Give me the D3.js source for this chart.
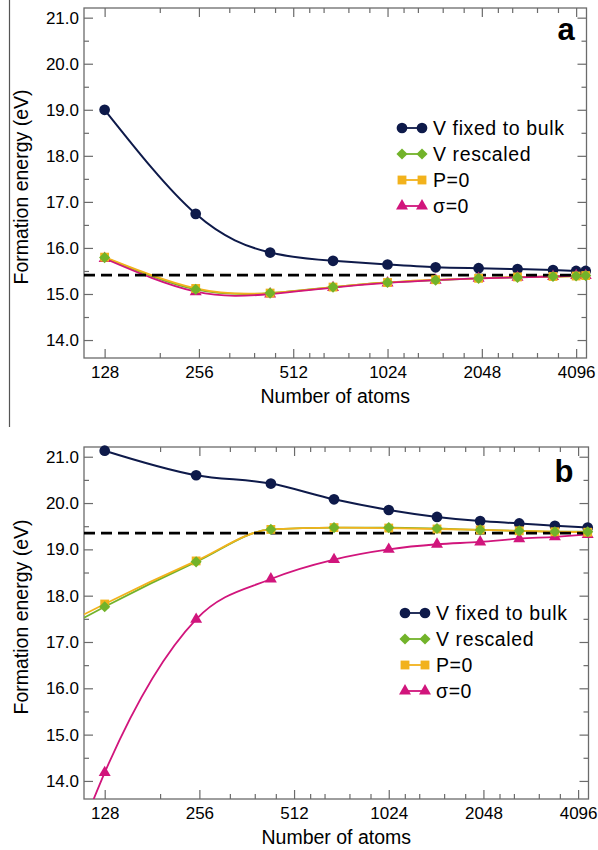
<!DOCTYPE html>
<html>
<head>
<meta charset="utf-8"/>
<script src="https://d3js.org/d3.v7.min.js"></script>
<style>
body { margin: 0; background: #fff; }
svg text { font-family: "Liberation Sans", Arial, Helvetica, sans-serif; fill: #000; }
.frame { fill: none; stroke: #6b6b6b; stroke-width: 1.3; }
.tick line { stroke: #6b6b6b; stroke-width: 1.2; }
</style>
</head>
<body>
<svg id="svg" width="598" height="850"></svg>
<script>
// number of atoms in the supercells
var atomsA = [128, 250, 432, 686, 1024, 1458, 2000, 2662, 3456, 4096, 4394];
var atomsB = [128, 250, 432, 686, 1024, 1458, 2000, 2662, 3456, 4394];

// panel a (eV)
var fixedA    = [19.0, 16.74, 15.9, 15.72, 15.64, 15.58, 15.56, 15.54, 15.52, 15.5, 15.5];
var rescaledA = [15.79, 15.1, 15.02, 15.15, 15.25, 15.3, 15.34, 15.36, 15.38, 15.39, 15.4];
var pzeroA    = [15.8, 15.12, 15.02, 15.15, 15.25, 15.31, 15.34, 15.37, 15.38, 15.39, 15.4];
var sigmaA    = [15.77, 15.05, 15.0, 15.14, 15.24, 15.3, 15.34, 15.36, 15.38, 15.4, 15.4];
var refA = 15.41;

// panel b (eV)
var fixedB    = [21.13, 20.6, 20.42, 20.08, 19.85, 19.7, 19.61, 19.56, 19.51, 19.47];
var rescaledB = [17.76, 18.73, 19.43, 19.47, 19.47, 19.45, 19.42, 19.4, 19.38, 19.38];
var pzeroB    = [17.82, 18.75, 19.43, 19.47, 19.46, 19.44, 19.42, 19.4, 19.38, 19.37];
var sigmaB    = [14.18, 17.49, 18.36, 18.78, 19.0, 19.11, 19.16, 19.23, 19.27, 19.32];
var refB = 19.35;

var seriesNames = ["V fixed to bulk", "V rescaled", "P=0", "\u03c3=0"];
var seriesColors = ["#0e1a4a", "#72b32a", "#f2b21c", "#d1157c"];
var seriesShapes = ["circle", "diamond", "square", "triangle"];

var xTicks = [128, 256, 512, 1024, 2048, 4096];
var xMinor = [192, 320, 384, 448, 576, 640, 768, 896, 1152, 1280, 1536, 1792, 2304, 2560, 3072, 3584];
var yTicks = [14, 15, 16, 17, 18, 19, 20, 21];
var yMinor = [14.5, 15.5, 16.5, 17.5, 18.5, 19.5, 20.5];

var panels = [
  { id: "a", left: 84, right: 586.5, top: 8, bottom: 358, atoms: atomsA,
    series: [fixedA, rescaledA, pzeroA, sigmaA], ref: refA, curve: d3.curveNatural,
    extend: [false, false, false, false], legendX: 402, legendY: 128,
    labelX: 566, labelY: 40, titleY: 187 },
  { id: "b", left: 84, right: 588.5, top: 447, bottom: 799, atoms: atomsB,
    series: [fixedB, rescaledB, pzeroB, sigmaB], ref: refB, curve: d3.curveMonotoneX,
    extend: [false, true, true, true], legendX: 405, legendY: 613,
    labelX: 564, labelY: 482, titleY: 617 }
];

var svg = d3.select("#svg");

// stray border line of the original figure
svg.append("line")
  .attr("x1", 9.5).attr("x2", 9.5).attr("y1", 0).attr("y2", 427)
  .attr("stroke", "#555").attr("stroke-width", 1.2);

function symbolPath(shape) {
  if (shape == "circle") return d3.symbol(d3.symbolCircle, 90)();
  if (shape == "diamond") return d3.symbol(d3.symbolSquare, 62)();
  if (shape == "square") return d3.symbol(d3.symbolSquare, 78)();
  return d3.symbol(d3.symbolTriangle, 62)();
}
function symbolRot(shape) { return shape == "diamond" ? " rotate(45)" : ""; }

// extend a fitted curve to the left edge (quadratic through the first three points, log2 x)
function leftPoint(xs, ys, xEdge) {
  var t = xs.slice(0, 3).map(Math.log2), v = ys.slice(0, 3);
  var s1 = (v[1] - v[0]) / (t[1] - t[0]);
  var s2 = (v[2] - v[1]) / (t[2] - t[1]);
  var f2 = (s2 - s1) / (t[2] - t[0]);
  var te = Math.log2(xEdge);
  return [xEdge, v[0] + s1 * (te - t[0]) + f2 * (te - t[0]) * (te - t[1])];
}

panels.forEach(function(p) {
  var x = d3.scaleLog().base(2).domain([110, 4420]).range([p.left, p.right]);
  var y = d3.scaleLinear().domain([13.61, 21.21]).range([p.bottom, p.top]);
  var g = svg.append("g");

  g.append("clipPath").attr("id", "clip-" + p.id)
    .append("rect")
    .attr("x", p.left).attr("y", p.top)
    .attr("width", p.right - p.left).attr("height", p.bottom - p.top);

  function addAxis(axis, tx, ty) {
    var a = g.append("g")
      .attr("transform", "translate(" + tx + "," + ty + ")")
      .call(axis);
    a.select(".domain").remove();
    a.selectAll("text")
      .style("font-family", "'Liberation Sans', Arial, sans-serif")
      .style("font-size", "17px")
      .style("fill", "#000");
    a.selectAll("line").attr("stroke", "#6b6b6b");
    return a;
  }

  addAxis(d3.axisBottom(x).tickValues(xTicks).tickSize(-9).tickPadding(8).tickFormat(d3.format("d")), 0, p.bottom);
  addAxis(d3.axisBottom(x).tickValues(xMinor).tickSize(-5).tickFormat(""), 0, p.bottom);
  addAxis(d3.axisTop(x).tickValues(xTicks).tickSize(-9).tickFormat(""), 0, p.top);
  addAxis(d3.axisTop(x).tickValues(xMinor).tickSize(-5).tickFormat(""), 0, p.top);
  addAxis(d3.axisLeft(y).tickValues(yTicks).tickSize(-9).tickPadding(5).tickFormat(d3.format(".1f")), p.left, 0);
  addAxis(d3.axisLeft(y).tickValues(yMinor).tickSize(-5).tickFormat(""), p.left, 0);
  addAxis(d3.axisRight(y).tickValues(yTicks).tickSize(-9).tickFormat(""), p.right, 0);
  addAxis(d3.axisRight(y).tickValues(yMinor).tickSize(-5).tickFormat(""), p.right, 0);

  g.append("rect").attr("class", "frame")
    .attr("x", p.left).attr("y", p.top)
    .attr("width", p.right - p.left).attr("height", p.bottom - p.top);

  var line = d3.line()
    .x(function(d) { return x(d[0]); })
    .y(function(d) { return y(d[1]); })
    .curve(p.curve);

  var lineOrder = [0, 1, 2, 3];
  var plot = g.append("g").attr("clip-path", "url(#clip-" + p.id + ")");
  lineOrder.forEach(function(i) {
    var pts = p.atoms.map(function(n, k) { return [n, p.series[i][k]]; });
    if (p.extend[i]) pts.unshift(leftPoint(p.atoms, p.series[i], x.domain()[0]));
    plot.append("path")
      .attr("d", line(pts))
      .attr("fill", "none")
      .attr("stroke", seriesColors[i])
      .attr("stroke-width", i == 0 ? 2 : 1.8);
  });

  // bulk reference
  plot.append("line")
    .attr("x1", p.left).attr("x2", p.right)
    .attr("y1", y(p.ref)).attr("y2", y(p.ref))
    .attr("stroke", "#000").attr("stroke-width", 2.6)
    .attr("stroke-dasharray", "11,6");

  var markerOrder = [0, 3, 2, 1];
  markerOrder.forEach(function(i) {
    g.append("g").selectAll("path")
      .data(p.atoms.map(function(n, k) { return [n, p.series[i][k]]; }))
      .enter().append("path")
      .attr("d", symbolPath(seriesShapes[i]))
      .attr("transform", function(d) {
        return "translate(" + x(d[0]) + "," + y(d[1]) + ")" + symbolRot(seriesShapes[i]);
      })
      .attr("fill", seriesColors[i]);
  });

  // legend
  var leg = g.append("g").selectAll("g")
    .data(seriesNames)
    .enter().append("g")
    .attr("transform", function(d, i) { return "translate(" + p.legendX + "," + (p.legendY + i * 26) + ")"; });
  leg.append("line")
    .attr("x1", 0).attr("x2", 20).attr("y1", 0).attr("y2", 0)
    .attr("stroke", function(d, i) { return seriesColors[i]; })
    .attr("stroke-width", 1.8);
  [0, 20].forEach(function(dx) {
    leg.append("path")
      .attr("d", function(d, i) { return symbolPath(seriesShapes[i]); })
      .attr("transform", function(d, i) { return "translate(" + dx + ",0)" + symbolRot(seriesShapes[i]); })
      .attr("fill", function(d, i) { return seriesColors[i]; });
  });
  leg.append("text")
    .attr("x", 31).attr("y", 6.5)
    .style("font-size", "19.5px")
    .style("letter-spacing", "0.6px")
    .text(function(d) { return d; });

  // panel letter
  g.append("text")
    .attr("x", p.labelX).attr("y", p.labelY)
    .attr("text-anchor", "middle")
    .style("font-size", "31px").style("font-weight", "bold")
    .text(p.id);

  // axis titles
  g.append("text")
    .attr("x", (p.left + p.right) / 2).attr("y", p.bottom + 45)
    .attr("text-anchor", "middle")
    .style("font-size", "19.5px")
    .text("Number of atoms");
  g.append("text")
    .attr("transform", "translate(27.5," + p.titleY + ") rotate(-90)")
    .attr("text-anchor", "middle")
    .style("font-size", "19.5px")
    .text("Formation energy (eV)");
});
</script>
</body>
</html>
